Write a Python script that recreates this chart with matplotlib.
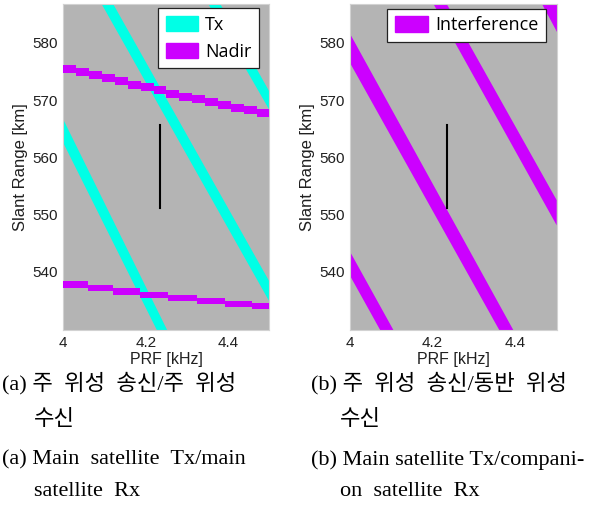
import matplotlib
matplotlib.use("Agg")
import matplotlib.pyplot as plt
import numpy as np

# axis ranges
PRF_LIM = (4.0, 4.5)
RANGE_LIM = (529.8, 586.8)

# (a) Tx blind bands, polygon corners (PRF kHz, slant range km)
tx1_prf = [4.000, 4.252, 4.227, 4.000]
tx1_rng = [566.6, 529.8, 529.8, 562.5]
tx2_prf = [4.093, 4.121, 4.500, 4.500]
tx2_rng = [586.8, 586.8, 538.3, 534.8]
tx3_prf = [4.352, 4.381, 4.500, 4.500]
tx3_rng = [586.8, 586.8, 571.5, 568.3]

# (a) nadir bands: staircase edges (PRF) and upper edge of each step (km)
nadir_hi_prf = [4.000, 4.031, 4.062, 4.094, 4.125, 4.156, 4.188, 4.219, 4.250,
                4.281, 4.312, 4.344, 4.375, 4.406, 4.438, 4.469, 4.500]
nadir_hi_top = [576.2, 575.6, 575.1, 574.5, 574.0, 573.4, 572.9, 572.4,
                571.8, 571.3, 570.8, 570.3, 569.8, 569.3, 568.9, 568.4]
nadir_hi_width = 1.4
nadir_lo_prf = [4.000, 4.061, 4.121, 4.186, 4.255, 4.324, 4.392, 4.457, 4.500]
nadir_lo_top = [538.3, 537.7, 537.1, 536.5, 536.0, 535.4, 534.9, 534.5]
nadir_lo_width = 1.1

# (b) interference bands
int1_prf = [4.000, 4.105, 4.073, 4.000]
int1_rng = [543.5, 529.8, 529.8, 539.3]
int2_prf = [4.000, 4.395, 4.361, 4.000]
int2_rng = [581.6, 529.8, 529.8, 576.5]
int3_prf = [4.202, 4.234, 4.500, 4.500]
int3_rng = [586.8, 586.8, 552.5, 548.1]
int4_prf = [4.464, 4.500, 4.500]
int4_rng = [586.8, 586.8, 581.9]

# selected operating point (black marker)
op_prf = [4.235, 4.235]
op_rng = [551.1, 565.6]

CYAN = "#00ffe6"
MAGENTA = "#cc00ff"
GRAY = "#b4b4b4"
TEXT = "#202020"

fig = plt.figure(figsize=(5.95, 5.09), dpi=100)
ax_a = fig.add_axes([0.1064, 0.3517, 0.3462, 0.6405])
ax_b = fig.add_axes([0.5882, 0.3517, 0.3474, 0.6405])


def style_axes(ax):
    ax.set_facecolor(GRAY)
    ax.set_xlim(*PRF_LIM)
    ax.set_ylim(*RANGE_LIM)
    ax.set_xticks([4.0, 4.2, 4.4])
    ax.set_xticklabels(["4", "4.2", "4.4"])
    ax.set_yticks([540, 550, 560, 570, 580])
    ax.tick_params(length=0, labelsize=11, labelcolor=TEXT, pad=4)
    for lab in ax.get_xticklabels() + ax.get_yticklabels():
        lab.set_family("Liberation Sans")
    for sp in ax.spines.values():
        sp.set_color("#d2d2d2")
        sp.set_linewidth(0.8)
    ax.set_xlabel("PRF [kHz]", fontsize=11.5, family="Liberation Sans", color=TEXT, labelpad=2)
    ax.set_ylabel("Slant Range [km]", fontsize=12, family="Liberation Sans", color=TEXT, labelpad=3)
    ax.plot(op_prf, op_rng, color="black", linewidth=1.5, zorder=5)


# (a)
for px, py in [(tx1_prf, tx1_rng), (tx2_prf, tx2_rng), (tx3_prf, tx3_rng)]:
    ax_a.fill(px, py, color=CYAN, linewidth=0, zorder=2)
for edges, top, w in [(nadir_hi_prf, nadir_hi_top, nadir_hi_width),
                      (nadir_lo_prf, nadir_lo_top, nadir_lo_width)]:
    top = np.append(top, top[-1])
    ax_a.fill_between(edges, top - w, top, step="post", color=MAGENTA, linewidth=0, zorder=3)
style_axes(ax_a)
h_tx = plt.Rectangle((0, 0), 1, 1, color=CYAN)
h_nd = plt.Rectangle((0, 0), 1, 1, color=MAGENTA)
leg_kw = dict(loc="upper right", fancybox=False, framealpha=1, edgecolor="#222222",
              prop={"family": "Open Sans", "size": 13}, handlelength=1.8, handleheight=0.95,
              handletextpad=0.4, labelspacing=0.5, borderpad=0.42, borderaxespad=0)
leg = ax_a.legend([h_tx, h_nd], ["Tx", "Nadir"], bbox_to_anchor=(0.951, 0.987), **leg_kw)
leg.get_frame().set_linewidth(0.9)

# (b)
for px, py in [(int1_prf, int1_rng), (int2_prf, int2_rng), (int3_prf, int3_rng), (int4_prf, int4_rng)]:
    ax_b.fill(px, py, color=MAGENTA, linewidth=0, zorder=2)
style_axes(ax_b)
leg = ax_b.legend([plt.Rectangle((0, 0), 1, 1, color=MAGENTA)], ["Interference"],
                  bbox_to_anchor=(0.947, 0.986), **leg_kw)
leg.get_frame().set_linewidth(0.9)

# captions
cap_font = ["Liberation Serif", "Noto Sans CJK KR"]
captions = [
    (0.004, 383, "(a) 주  위성  송신/주  위성"),
    (0.057, 420, "수신"),
    (0.004, 460, "(a) Main  satellite  Tx/main"),
    (0.057, 492, "satellite  Rx"),
    (0.523, 383, "(b) 주  위성  송신/동반  위성"),
    (0.572, 420, "수신"),
    (0.523, 460, "(b) Main satellite Tx/compani-"),
    (0.572, 492, "on  satellite  Rx"),
]
for x, ypx, s in captions:
    fig.text(x, 1 - ypx / 509, s, family=cap_font, fontsize=16, color="black",
             ha="left", va="center")

fig.savefig("out.png", dpi=100)
